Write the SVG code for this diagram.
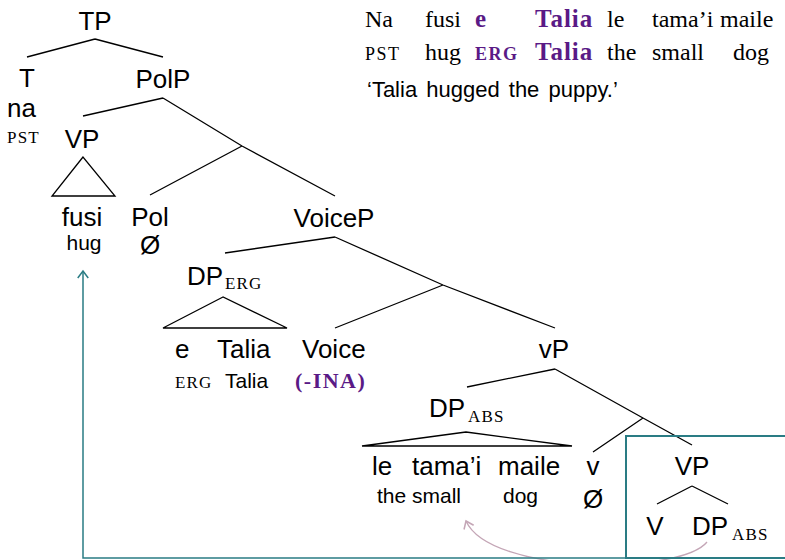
<svg xmlns="http://www.w3.org/2000/svg" width="785" height="560" viewBox="0 0 785 560">
<style>
.s{font-family:"Liberation Sans",Arial,sans-serif;font-size:26px;fill:#000}
.g{font-family:"Liberation Sans",Arial,sans-serif;font-size:21px;fill:#000}
.sc{font-family:"Liberation Serif","Times New Roman",serif;font-size:17px;letter-spacing:1.2px;fill:#000}
.r{font-family:"Liberation Serif","Times New Roman",serif;font-size:24px;fill:#000}
.rb{font-family:"Liberation Serif","Times New Roman",serif;font-size:25px;font-weight:bold;fill:#5a1a86;letter-spacing:1px}
.rbs{font-family:"Liberation Serif","Times New Roman",serif;font-size:18px;font-weight:bold;fill:#5a1a86;letter-spacing:1.5px}
.rs{font-family:"Liberation Serif","Times New Roman",serif;font-size:18px;letter-spacing:1.5px;fill:#000}
.m{text-anchor:middle}
.ln{stroke:#000;stroke-width:1.3;fill:none}
</style>
<defs>
<marker id="ah" markerUnits="userSpaceOnUse" markerWidth="14" markerHeight="14" refX="0" refY="0" viewBox="-8 -6 10 12" orient="auto">
<path d="M-6,-4.5 L0,0 L-6,4.5" fill="none" stroke="#2a7c84" stroke-width="1.3"/>
</marker>
<marker id="ahp" markerUnits="userSpaceOnUse" markerWidth="14" markerHeight="14" refX="0" refY="0" viewBox="-8 -6 10 12" orient="auto">
<path d="M-6,-4.5 L0,0 L-6,4.5" fill="none" stroke="#c4a6b6" stroke-width="1.3"/>
</marker>
</defs>

<g id="example">
<text class="r" x="365" y="27">Na</text>
<text class="r" x="425" y="27">fusi</text>
<text class="rb" x="475" y="27">e</text>
<text class="rb" x="535" y="27">Talia</text>
<text class="r" x="607" y="27">le</text>
<text class="r" x="652" y="27">tama’i</text>
<text class="r" x="720" y="27">maile</text>
<text class="rs" x="365" y="60">PST</text>
<text class="r" x="425" y="60">hug</text>
<text class="rbs" x="475" y="60">ERG</text>
<text class="rb" x="535" y="60">Talia</text>
<text class="r" x="607" y="60">the</text>
<text class="r" x="652" y="60">small</text>
<text class="r" x="733" y="60">dog</text>
<text class="g" x="367" y="97" style="font-size:22px;word-spacing:3px">‘Talia hugged the puppy.’</text>
</g>

<g id="connectors">
<path class="ln" d="M95,39 L27,57 M95,39 L163,57"/>
<path class="ln" d="M163,98 L83,116 M163,98 L242,146 L335,196 M242,146 L150,195"/>
<path class="ln" d="M83,157 L52,196 L115,196 Z"/>
<path class="ln" d="M335,237 L225,253 M335,237 L443,285 L555,328 M443,285 L335,328"/>
<path class="ln" d="M223,297 L163,328 L287,328 Z"/>
<path class="ln" d="M555,369 L467,387 M555,369 L643,418 L692,445 M643,418 L593,452"/>
<path class="ln" d="M466,432 L362,446 L572,446 Z"/>
<path class="ln" d="M692,486 L657,504 M692,486 L728,504"/>
<path d="M707,542 C680,575 490,575 466,521" fill="none" stroke="#c4a6b6" stroke-width="1.3" marker-end="url(#ahp)"/>
<path d="M626,558 H83 V271" fill="none" stroke="#2a7c84" stroke-width="1.5" marker-end="url(#ah)"/>
</g>

<g id="TP"><text class="s m" x="95" y="30">TP</text></g>
<g id="T">
<text class="s m" x="27" y="87">T</text>
<text class="s" x="7" y="117">na</text>
<text class="sc" x="7" y="143">PST</text>
</g>
<g id="PolP"><text class="s m" x="163" y="88">PolP</text></g>
<g id="VP1">
<text class="s m" x="82" y="148">VP</text>
<text class="s m" x="82" y="226">fusi</text>
<text class="g m" x="84" y="250">hug</text>
</g>
<g id="Pol">
<text class="s m" x="150" y="226">Pol</text>
<text class="s m" x="150" y="254">Ø</text>
</g>
<g id="VoiceP"><text class="s m" x="334" y="227">VoiceP</text></g>
<g id="DPerg">
<text class="s" x="187" y="285">DP</text>
<text class="sc" x="225" y="289">ERG</text>
<text class="s" x="175" y="358">e</text>
<text class="s" x="217" y="358">Talia</text>
<text class="sc" x="175" y="388">ERG</text>
<text class="g" x="225" y="388">Talia</text>
</g>
<g id="Voice">
<text class="s" x="302" y="358">Voice</text>
<text class="rb" x="295" y="388" style="font-size:22px;letter-spacing:1.5px">(-INA)</text>
</g>
<g id="vP"><text class="s m" x="554" y="358">vP</text></g>
<g id="DPabs">
<text class="s" x="429" y="417">DP</text>
<text class="sc" x="468" y="422">ABS</text>
<text class="s" x="372" y="475">le</text>
<text class="s" x="412" y="475">tama’i</text>
<text class="s" x="498" y="475">maile</text>
<text class="g" x="377" y="503">the small</text>
<text class="g" x="503" y="503">dog</text>
</g>
<g id="v">
<text class="s m" x="593" y="475">v</text>
<text class="s m" x="593" y="508">Ø</text>
</g>
<g id="VPbox">
<rect x="626" y="436" width="172" height="122" fill="none" stroke="#2a7c84" stroke-width="2"/>
<text class="s m" x="692" y="475">VP</text>
<text class="s m" x="655" y="535">V</text>
<text class="s" x="692" y="535">DP</text>
<text class="sc" x="732" y="540">ABS</text>
</g>
</svg>
